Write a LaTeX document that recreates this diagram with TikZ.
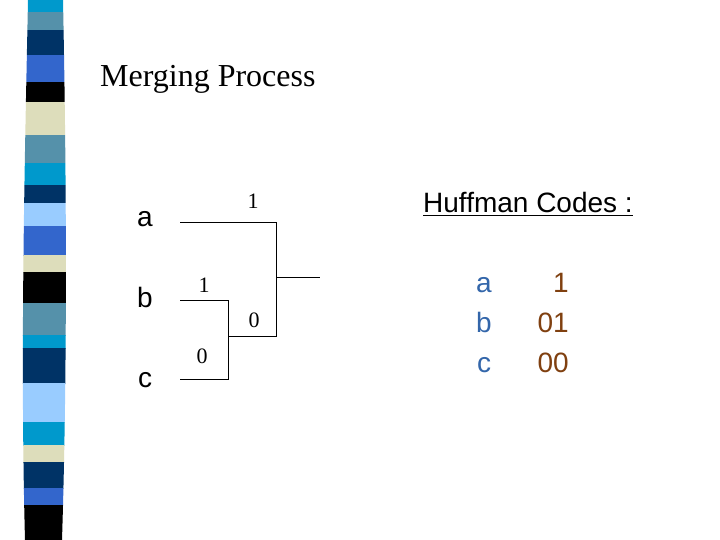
\documentclass[tikz,border=0pt]{standalone}
\usepackage{fontspec}
\setmainfont{Liberation Serif}
\newfontfamily\arial{Liberation Sans}
\definecolor{sCyan}{RGB}{0,153,204}
\definecolor{sSteel}{RGB}{85,145,170}
\definecolor{sNavy}{RGB}{0,51,102}
\definecolor{sRoyal}{RGB}{51,102,204}
\definecolor{sCream}{RGB}{221,221,187}
\definecolor{sLight}{RGB}{153,204,255}
\definecolor{letterc}{RGB}{51,102,170}
\definecolor{codec}{RGB}{128,64,16}
\begin{document}
\begin{tikzpicture}[x=1pt,y=-1pt,
  lbl/.style={font=\fontsize{22}{22}\selectfont, inner sep=0pt},
  sym/.style={font=\arial\fontsize{28}{28}\selectfont, inner sep=0pt},
  wire/.style={line width=0.9pt}]
\useasboundingbox (0,0) rectangle (720,540);
\fill[white] (0,0) rectangle (720,540);
\begin{scope}
\clip (28,0) .. controls (25,150) and (20,350) .. (25,540) -- (62,540) .. controls (67,380) and (67,200) .. (63,0) -- cycle;
\foreach \a/\b/\c in {0/12/sCyan,12/30/sSteel,30/55/sNavy,55/82/sRoyal,82/102/black,102/135/sCream,135/163/sSteel,163/185/sCyan,185/203/sNavy,203/226/sLight,226/255/sRoyal,255/272/sCream,272/303/black,303/335/sSteel,335/348/sCyan,348/383/sNavy,383/422/sLight,422/445/sCyan,445/462/sCream,462/488/sNavy,488/505/sRoyal,505/540/black}
  \fill[\c] (0,\a) rectangle (100,\b+0.5);
\end{scope}
\node[anchor=base west, inner sep=0pt, font=\fontsize{32}{32}\selectfont] (title) at (100,87) {Merging Process};
\node[sym,anchor=base] (a) at (145,226) {a};
\node[sym,anchor=base] (b) at (145,307) {b};
\node[sym,anchor=base] (c) at (145,387) {c};
\coordinate (a1) at (180,222.5); \coordinate (a2) at (276,222.5);
\coordinate (b1) at (180,300); \coordinate (b2) at (228,300);
\coordinate (c1) at (180,379); \coordinate (c2) at (228,379);
\coordinate (j1) at (228,336); \coordinate (j2) at (276,336);
\coordinate (o1) at (276,277); \coordinate (o2) at (320,277);
\draw[wire] (a1) -- (a2) -- (j2) -- (j1);
\draw[wire] (b1) -- (b2) -- (c2) -- (c1);
\draw[wire] (o1) -- (o2);
\node[lbl] (l1) at (253,201) {1};
\node[lbl] (l2) at (204,285) {1};
\node[lbl] (l3) at (254,320) {0};
\node[lbl] (l4) at (202,356) {0};
\node[anchor=base west, inner sep=0pt, font=\arial\fontsize{28}{28}\selectfont] (hc) at (423,212) {Huffman Codes :};
\draw[line width=0.9pt] (hc.south west)++(0,3) coordinate (u1) -- (hc.south east |- u1);
\foreach \n/\l/\cd/\y in {ka/a/1/292,kb/b/01/332,kc/c/00/372}{
  \node[sym,anchor=base,text=letterc] (\n) at (484,\y) {\l};
  \node[sym,anchor=base east,text=codec] (\n c) at (569,\y) {\cd};
}
\end{tikzpicture}
\end{document}
